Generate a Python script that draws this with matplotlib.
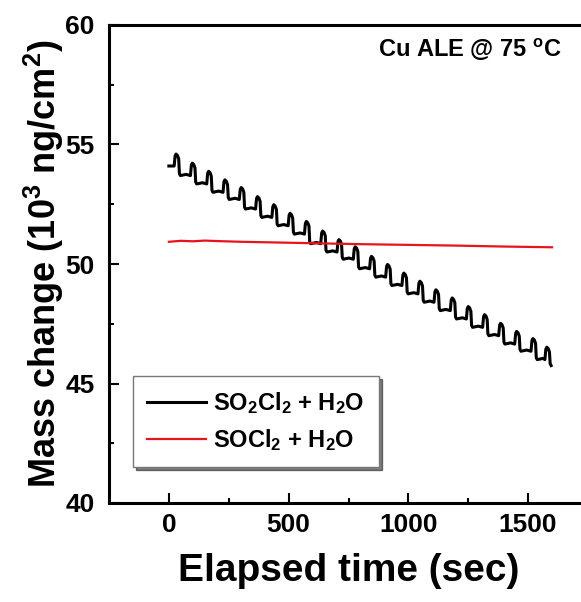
import matplotlib
matplotlib.use("Agg")
import matplotlib.pyplot as plt
import numpy as np

plt.rcParams['font.family'] = ['Liberation Sans', 'DejaVu Sans']
plt.rcParams['font.weight'] = 'bold'
plt.rcParams['mathtext.fontset'] = 'custom'
plt.rcParams['mathtext.rm'] = 'Liberation Sans:bold'
plt.rcParams['mathtext.bf'] = 'Liberation Sans:bold'
plt.rcParams['mathtext.default'] = 'rm'

# SO2Cl2 + H2O: one sawtooth per ALE cycle (rise time, level before rise, peak level)
rise_t = [22, 90, 158, 226, 294, 362, 430, 498, 566, 634, 702, 770,
          838, 905, 973, 1040, 1107, 1175, 1242, 1310, 1377, 1444, 1512, 1570]
base = [54.10, 53.70, 53.35, 53.00, 52.70, 52.30, 51.95, 51.60, 51.25, 50.85,
        50.50, 50.20, 49.80, 49.45, 49.10, 48.75, 48.40, 48.05, 47.70, 47.35,
        47.00, 46.65, 46.35, 46.00, 45.75]
peak = [54.60, 54.22, 53.88, 53.52, 53.20, 52.82, 52.48, 52.12, 51.78, 51.38,
        51.02, 50.72, 50.32, 49.98, 49.62, 49.28, 48.92, 48.58, 48.22, 47.88,
        47.52, 47.18, 46.88, 46.52]
t_end = 1600

# SOCl2 + H2O
red_t = [0, 50, 100, 150, 200, 300, 450, 600, 800, 1000, 1200, 1400, 1600]
red_m = [50.93, 50.97, 50.95, 50.98, 50.96, 50.93, 50.90, 50.87, 50.83, 50.80, 50.77, 50.73, 50.70]

# build the black trace from the per-cycle readings
bt, bm = [0], [base[0]]
for i, t0 in enumerate(rise_t):
    p = peak[i]
    nb = base[i + 1]
    seg_t = [t0, t0 + 4, t0 + 8, t0 + 14, t0 + 19, t0 + 22, t0 + 26, t0 + 50]
    seg_m = [base[i], p - 0.08, p, p - 0.06, p - 0.2, nb + 0.08, nb, nb + 0.05]
    for t, m in zip(seg_t, seg_m):
        if t <= t_end:
            bt.append(t)
            bm.append(m)

fig = plt.figure(figsize=(5.81, 6.02), dpi=100)
ax = fig.add_axes([109 / 581, 1 - 503 / 602, 479 / 581, 478 / 602])

ax.plot(bt, bm, color='black', lw=2.2, label='SO$_2$Cl$_2$ + H$_2$O')
ax.plot(red_t, red_m, color='#e8141c', lw=1.6, label='SOCl$_2$ + H$_2$O')

ax.set_xlim(-250, 1750)
ax.set_ylim(40, 60)
ax.set_xticks([0, 500, 1000, 1500])
ax.set_xticks([250, 750, 1250], minor=True)
ax.set_yticks([40, 45, 50, 55, 60])
ax.set_yticks([42.5, 47.5, 52.5, 57.5], minor=True)
ax.tick_params(which='major', direction='in', length=7, width=1.5, labelsize=19, pad=7)
ax.tick_params(axis='y', which='major', pad=10.5)
ax.tick_params(which='minor', direction='in', length=3.5, width=1.5)
for lab in ax.get_xticklabels() + ax.get_yticklabels():
    lab.set_fontweight('bold')
for s in ax.spines.values():
    s.set_linewidth(2.2)

ax.set_xlabel('Elapsed time (sec)', fontsize=28, fontweight='bold', labelpad=12)
ax.set_ylabel('Mass change (10$^3$ ng/cm$^2$)', fontsize=26, fontweight='bold', labelpad=-1)

ax.text(0.945, 0.975, 'Cu ALE @ 75 $^o$C', transform=ax.transAxes, ha='right', va='top',
        fontsize=17, fontweight='bold')

leg = ax.legend(loc='lower left', bbox_to_anchor=(0.05, 0.075), borderaxespad=0,
                fontsize=17, handlelength=2.5, fancybox=False, framealpha=1,
                edgecolor='#777777', shadow={'color': 'black'}, borderpad=0.6,
                labelspacing=0.45, handletextpad=0.3)
leg.get_frame().set_linewidth(1.0)
for txt in leg.get_texts():
    txt.set_fontweight('bold')

fig.savefig('out.png', dpi=100)
